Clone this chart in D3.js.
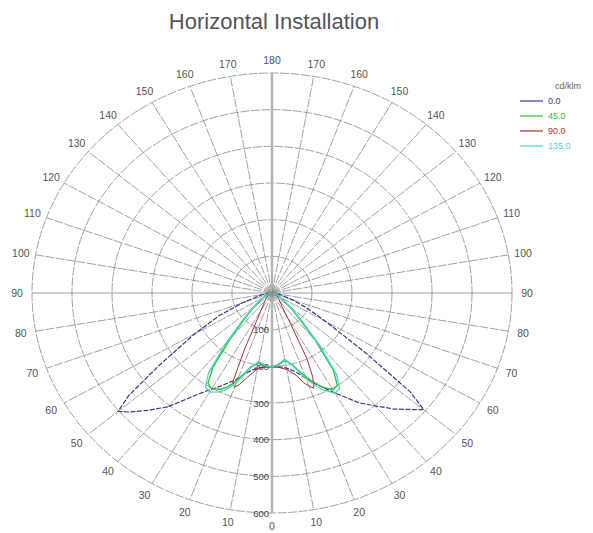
<!DOCTYPE html>
<html>
<head>
<meta charset="utf-8">
<script src="https://cdn.jsdelivr.net/npm/d3@7/dist/d3.min.js"></script>
<style>
body { margin: 0; background: #fff; }
</style>
</head>
<body>
<script>
//polar intensity data, gamma angle measured from nadir (degrees)
var gamma = [0, 5, 10, 15, 18, 20, 22, 24, 26, 30, 33, 36, 40, 44, 48, 50, 52, 55, 60, 65, 70, 80, 90];

//C-plane values in cd/klm, left half and right half of the diagram
var c0Left    = [200, 202, 208, 222, 235, 248, 258, 268, 280, 303, 325, 355, 405, 445, 485, 502, 455, 345, 225, 145, 78, 25, 5];
var c0Right   = [200, 202, 208, 222, 235, 248, 260, 272, 285, 315, 340, 370, 402, 440, 475, 495, 440, 290, 155, 95, 55, 18, 4];
var c45Left   = [202, 200, 193, 210, 235, 252, 268, 282, 292, 302, 294, 252, 160, 100, 68, 55, 45, 35, 24, 16, 11, 5, 2];
var c45Right  = [202, 196, 186, 205, 226, 240, 256, 270, 285, 305, 300, 262, 168, 100, 68, 55, 45, 35, 24, 16, 11, 5, 2];
var c90Left   = [202, 203, 210, 238, 262, 273, 262, 170, 100, 55, 42, 34, 27, 22, 18, 16, 15, 13, 10, 8, 6, 3, 1];
var c90Right  = [202, 204, 212, 232, 258, 270, 280, 250, 200, 80, 50, 40, 32, 26, 22, 20, 18, 15, 12, 9, 7, 3, 1];
var c135Left  = [202, 198, 190, 212, 240, 258, 275, 290, 300, 312, 305, 270, 180, 112, 75, 60, 50, 38, 26, 17, 12, 5, 2];
var c135Right = [202, 194, 184, 207, 232, 248, 264, 280, 295, 316, 310, 275, 182, 110, 74, 60, 50, 38, 26, 17, 12, 5, 2];

var planeNames = ["0.0", "45.0", "90.0", "135.0"];
var ringTicks = [100, 200, 300, 400, 500, 600];
var spokeAngles = d3.range(0, 360, 10);

window.onload = function(){
    var width = 593, height = 533;
    var cx = 272, cy = 293;

    var svg = d3.select("body")
        .append("svg")
        .attr("width", width)
        .attr("height", height)
        .style("font-family", "'Liberation Sans', Arial, sans-serif");

    //the diagram is a bit wider than tall
    var rx = d3.scaleLinear().domain([0, 600]).range([0, 240]);
    var ry = d3.scaleLinear().domain([0, 600]).range([0, 220]);
    var rad = function(a){ return a * Math.PI / 180; };

    //title
    svg.append("text")
        .attr("x", 274)
        .attr("y", 29)
        .attr("text-anchor", "middle")
        .style("font-size", "22px")
        .style("fill", "#555")
        .text("Horizontal Installation");

    var grid = svg.append("g").attr("class", "grid");

    //rings
    grid.selectAll("ellipse")
        .data(ringTicks)
        .enter()
        .append("ellipse")
        .attr("cx", cx)
        .attr("cy", cy)
        .attr("rx", function(d){ return rx(d); })
        .attr("ry", function(d){ return ry(d); })
        .style("fill", "none")
        .style("stroke", "#8a8a8a")
        .style("stroke-width", 0.8)
        .style("stroke-dasharray", "9,1.5");

    //spokes every 10 degrees, the 0-180 axis wider and lighter
    grid.selectAll("line.spoke")
        .data(spokeAngles)
        .enter()
        .append("line")
        .attr("class", "spoke")
        .attr("x1", cx)
        .attr("y1", cy)
        .attr("x2", function(d){ return cx - Math.sin(rad(d)) * rx(600); })
        .attr("y2", function(d){ return cy + Math.cos(rad(d)) * ry(600); })
        .style("stroke", function(d){ return d % 180 == 0 ? "#b4b4b4" : "#8a8a8a"; })
        .style("stroke-width", function(d){ return d % 180 == 0 ? 2.5 : 0.8; })
        .style("stroke-dasharray", function(d){ return d % 90 == 0 ? null : "9,1.5"; });

    //angle labels outside the outer ring
    grid.selectAll("text.angle")
        .data(spokeAngles)
        .enter()
        .append("text")
        .attr("class", "angle")
        .attr("x", function(d){ return cx - Math.sin(rad(d)) * (rx(600) + 15); })
        .attr("y", function(d){ return cy + Math.cos(rad(d)) * (ry(600) + 13) + 4; })
        .attr("text-anchor", "middle")
        .style("font-size", "10.5px")
        .style("fill", "#555")
        .text(function(d){ return d <= 180 ? d : 360 - d; });

    //ring labels on the downward axis
    grid.selectAll("text.ring")
        .data(ringTicks)
        .enter()
        .append("text")
        .attr("class", "ring")
        .attr("x", cx - 3)
        .attr("y", function(d){ return cy + ry(d) + 3.5; })
        .attr("text-anchor", "end")
        .style("font-size", "9.5px")
        .style("fill", "#444")
        .text(function(d){ return d; });

    //curves: left half from 90 down to 0, then right half from 0 up to 90
    var series = [
        {name: planeNames[0], left: c0Left, right: c0Right, color: "#3a3a8e", dash: "5,1.5", w: 1.2},
        {name: planeNames[1], left: c45Left, right: c45Right, color: "#2ec02e", dash: null, w: 1.3},
        {name: planeNames[2], left: c90Left, right: c90Right, color: "#b03030", dash: null, w: 1},
        {name: planeNames[3], left: c135Left, right: c135Right, color: "#45d6c6", dash: null, w: 1.3}
    ];

    var line = d3.line()
        .x(function(d){ return cx + d.side * rx(d.r) * Math.sin(rad(d.g)); })
        .y(function(d){ return cy + ry(d.r) * Math.cos(rad(d.g)); });

    series.forEach(function(s){
        var pts = [];
        for (var i = gamma.length - 1; i >= 0; i--) pts.push({g: gamma[i], r: s.left[i], side: -1});
        for (var j = 0; j < gamma.length; j++) pts.push({g: gamma[j], r: s.right[j], side: 1});
        svg.append("path")
            .datum(pts)
            .attr("d", line)
            .style("fill", "none")
            .style("stroke", s.color)
            .style("stroke-width", s.w)
            .style("stroke-dasharray", s.dash);
    });

    //legend
    var legend = svg.append("g").attr("class", "legend");
    legend.append("text")
        .attr("x", 568)
        .attr("y", 89)
        .attr("text-anchor", "middle")
        .style("font-size", "9px")
        .style("fill", "#666")
        .text("cd/klm");

    var items = legend.selectAll("g.item")
        .data(series)
        .enter()
        .append("g")
        .attr("class", "item")
        .attr("transform", function(d, i){ return "translate(0," + (101 + i * 15) + ")"; });

    items.append("line")
        .attr("x1", 520)
        .attr("x2", 543)
        .style("stroke", function(d){ return d.color; })
        .style("stroke-width", 1.2);

    items.append("text")
        .attr("x", 548)
        .attr("y", 3)
        .style("font-size", "9px")
        .style("fill", function(d){ return d.color; })
        .text(function(d){ return d.name; });
};
</script>
</body>
</html>
